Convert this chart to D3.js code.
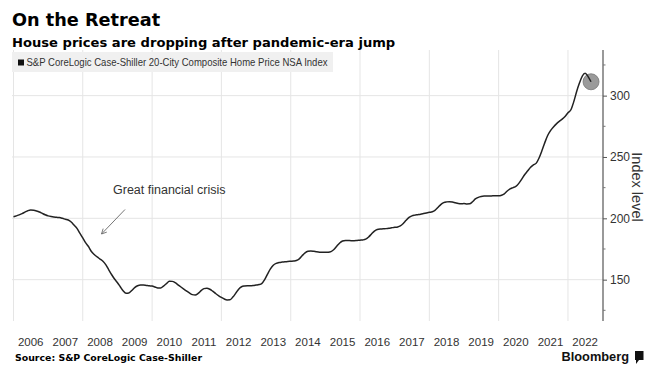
<!DOCTYPE html>
<html>
<head>
<meta charset="utf-8">
<script src="https://cdn.jsdelivr.net/npm/d3@7"></script>
<style>
  html, body { margin: 0; padding: 0; background: #fff; }
  svg { display: block; }
</style>
</head>
<body>
<svg id="chart" width="654" height="374"></svg>
<script>
// ---- DATA ----
const title = "On the Retreat";
const subtitle = "House prices are dropping after pandemic-era jump";
const seriesName = "S&P CoreLogic Case-Shiller 20-City Composite Home Price NSA Index";
const sourceText = "Source: S&P CoreLogic Case-Shiller";
const axisTitle = "Index level";
const annotationText = "Great financial crisis";

const startYear = 2006;
// Monthly index values, one row per year (Jan..Dec)
const v2006 = [201.3, 202.0, 202.8, 203.8, 205.0, 206.2, 206.8, 206.6, 206.0, 205.2, 204.0, 202.9];
const v2007 = [202.0, 201.4, 201.0, 200.8, 200.6, 200.0, 199.3, 198.6, 197.0, 194.5, 191.8, 188.0];
const v2008 = [184.0, 180.0, 177.0, 173.0, 170.5, 168.5, 166.8, 165.0, 162.0, 158.0, 154.0, 150.5];
const v2009 = [147.5, 144.0, 141.0, 139.0, 139.2, 141.2, 143.5, 145.0, 145.6, 145.6, 145.3, 145.0];
const v2010 = [144.8, 144.0, 143.2, 143.2, 144.8, 146.8, 148.7, 148.6, 147.5, 145.8, 144.0, 142.3];
const v2011 = [140.6, 139.0, 137.8, 137.5, 138.8, 141.0, 142.7, 143.0, 142.2, 140.6, 138.7, 137.0];
const v2012 = [135.5, 134.2, 133.5, 133.6, 135.8, 139.0, 142.2, 144.2, 144.8, 145.0, 145.0, 145.2];
const v2013 = [145.6, 146.0, 146.8, 150.0, 154.5, 158.8, 161.8, 163.3, 164.0, 164.3, 164.5, 164.8];
const v2014 = [165.0, 165.2, 165.6, 167.0, 169.5, 171.8, 173.1, 173.4, 173.1, 172.7, 172.4, 172.3];
const v2015 = [172.3, 172.4, 172.9, 174.6, 177.3, 179.9, 181.5, 182.0, 181.9, 181.8, 181.8, 182.0];
const v2016 = [182.2, 182.4, 183.0, 184.8, 187.2, 189.6, 190.9, 191.3, 191.4, 191.6, 191.9, 192.3];
const v2017 = [192.7, 193.0, 193.8, 195.8, 198.4, 200.7, 202.0, 202.6, 203.0, 203.4, 203.9, 204.4];
const v2018 = [204.9, 205.4, 206.5, 208.8, 211.2, 212.8, 213.4, 213.6, 213.3, 212.7, 212.1, 211.8];
const v2019 = [212.0, 211.7, 211.8, 213.5, 215.8, 217.1, 217.8, 218.1, 218.1, 218.2, 218.3, 218.4];
const v2020 = [218.3, 218.8, 220.0, 222.3, 224.0, 225.0, 226.0, 228.5, 232.0, 235.5, 238.5, 241.5];
const v2021 = [243.5, 245.0, 249.0, 255.0, 261.5, 267.5, 271.5, 274.5, 277.0, 279.0, 280.8, 283.0];
const v2022 = [286.0, 288.5, 294.5, 303.0, 310.0, 316.0, 318.2, 315.5, 311.3];
const yearRows = [v2006, v2007, v2008, v2009, v2010, v2011, v2012, v2013, v2014, v2015, v2016, v2017, v2018, v2019, v2020, v2021, v2022];

const yearLabels = ["2006","2007","2008","2009","2010","2011","2012","2013","2014","2015","2016","2017","2018","2019","2020","2021","2022"];
const yTickValues = [150, 200, 250, 300];
const yMinorTicks = [125, 175, 225, 275, 325];
const gridYears = [2006, 2008, 2010, 2012, 2014, 2016, 2018, 2020, 2022];

// ---- BUILD SERIES ----
const data = [];
yearRows.forEach((row, yi) => {
  row.forEach((v, mi) => data.push({ date: new Date(startYear + yi, mi, 1), value: v }));
});

// ---- LAYOUT ----
const svg = d3.select("#chart");
const plotLeft = 12, plotRight = 603, plotTop = 50, plotBottom = 321;

const x = d3.scaleTime()
  .domain([new Date(2006, 0, 1), new Date(2023, 0, 1)])
  .range([13.5, 602.6]);
const y = d3.scaleLinear()
  .domain([116.3, 337.2])
  .range([plotBottom, plotTop]);

const gridColor = "#e5e5e5";
const textColor = "#333";
const fontMain = "'Liberation Sans', Arial, sans-serif";
const fontBold = "'DejaVu Sans', Verdana, sans-serif";

// gridlines
svg.append("g").selectAll("line.vg").data(gridYears).join("line")
  .attr("x1", d => x(new Date(d, 0, 1))).attr("x2", d => x(new Date(d, 0, 1)))
  .attr("y1", plotTop).attr("y2", plotBottom)
  .attr("stroke", gridColor).attr("stroke-width", 1);
svg.append("g").selectAll("line.hg").data(yTickValues).join("line")
  .attr("x1", plotLeft).attr("x2", plotRight)
  .attr("y1", d => y(d)).attr("y2", d => y(d))
  .attr("stroke", gridColor).attr("stroke-width", 1);

// legend box
svg.append("rect").attr("x", 12).attr("y", 52).attr("width", 321).attr("height", 20)
  .attr("fill", "#f0f0f0");
svg.append("rect").attr("x", 18).attr("y", 59.5).attr("width", 6).attr("height", 6).attr("fill", "#111");
svg.append("text").attr("x", 26.5).attr("y", 66.3)
  .attr("font-family", fontMain).attr("font-size", 10.5).attr("fill", textColor)
  .attr("textLength", 301).attr("lengthAdjust", "spacingAndGlyphs")
  .text(seriesName);

// right axis
const yAxis = d3.axisRight(y).tickValues(yTickValues).tickSize(4).tickPadding(3);
const axisG = svg.append("g").attr("transform", `translate(${plotRight},0)`).call(yAxis);
axisG.select(".domain").attr("stroke", "#555").attr("stroke-width", 1.2).attr("d", `M0,${plotTop}V${plotBottom}`);
axisG.selectAll(".tick line").attr("stroke", "#555");
axisG.selectAll(".tick text").attr("font-family", fontMain).attr("font-size", 12).attr("fill", textColor);
svg.append("g").selectAll("line").data(yMinorTicks).join("line")
  .attr("x1", plotRight).attr("x2", plotRight + 2.5)
  .attr("y1", d => y(d)).attr("y2", d => y(d))
  .attr("stroke", "#777");

// axis title
svg.append("text")
  .attr("transform", `translate(632, ${187}) rotate(90)`)
  .attr("text-anchor", "middle")
  .attr("font-family", fontMain).attr("font-size", 14.5).attr("fill", textColor)
  .text(axisTitle);

// x labels (mid-year)
svg.append("g").selectAll("text").data(yearLabels).join("text")
  .attr("x", d => x(new Date(+d, 6, 1)))
  .attr("y", 346)
  .attr("text-anchor", "middle")
  .attr("font-family", fontMain).attr("font-size", 11.5).attr("fill", textColor)
  .text(d => d);

// end marker
const last = data[data.length - 1];
svg.append("circle").attr("cx", x(last.date)).attr("cy", y(last.value)).attr("r", 8)
  .attr("fill", "#9a9a9a").attr("stroke", "#777").attr("stroke-width", 0.8);

// line
const line = d3.line().x(d => x(d.date)).y(d => y(d.value)).curve(d3.curveMonotoneX);
svg.append("path").datum(data).attr("d", line)
  .attr("fill", "none").attr("stroke", "#222").attr("stroke-width", 1.5)
  .attr("stroke-linejoin", "round");

// annotation
svg.append("text").attr("x", 113).attr("y", 193.5)
  .attr("font-family", fontMain).attr("font-size", 12.5).attr("fill", textColor)
  .text(annotationText);
svg.append("defs").append("marker").attr("id", "arr")
  .attr("viewBox", "0 0 10 10").attr("refX", 9).attr("refY", 5)
  .attr("markerWidth", 7).attr("markerHeight", 7).attr("orient", "auto")
  .append("path").attr("d", "M1,1L9,5L1,9").attr("fill", "none").attr("stroke", "#666").attr("stroke-width", 1.3);
svg.append("line").attr("x1", 125).attr("y1", 209.5).attr("x2", 101.5).attr("y2", 234)
  .attr("stroke", "#666").attr("stroke-width", 0.9).attr("marker-end", "url(#arr)");

// titles
svg.append("text").attr("x", 12).attr("y", 26)
  .attr("font-family", fontBold).attr("font-weight", "bold").attr("font-size", 17.7).attr("fill", "#000")
  .text(title);
svg.append("text").attr("x", 12).attr("y", 46.5)
  .attr("font-family", fontBold).attr("font-weight", "bold").attr("font-size", 13.1).attr("fill", "#000")
  .text(subtitle);

// source
svg.append("text").attr("x", 15).attr("y", 361)
  .attr("font-family", fontBold).attr("font-weight", "bold").attr("font-size", 9.4).attr("fill", "#000")
  .text(sourceText);

// Bloomberg logo
svg.append("text").attr("x", 629).attr("y", 361).attr("text-anchor", "end")
  .attr("font-family", "'Liberation Sans', Arial, sans-serif").attr("font-weight", "bold").attr("font-size", 12.8).attr("fill", "#111")
  .text("Bloomberg");
svg.append("rect").attr("x", 635).attr("y", 351).attr("width", 8.5).attr("height", 9).attr("fill", "#111");
svg.append("path").attr("d", "M636,360 L636,364 L639,360 Z").attr("fill", "#111");
</script>
</body>
</html>
